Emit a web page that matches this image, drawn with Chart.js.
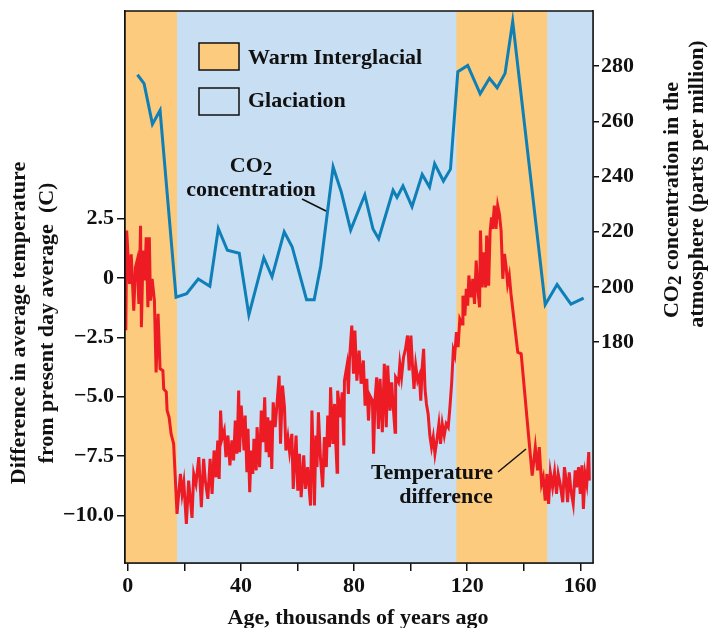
<!DOCTYPE html>
<html>
<head>
<meta charset="utf-8">
<script src="https://cdn.jsdelivr.net/npm/chart.js@4"></script>
<style>
  body { margin: 0; background: #fff; }
  #wrap { width: 710px; height: 628px; }
</style>
</head>
<body>
<div id="wrap"><canvas id="myChart" width="710" height="628"></canvas></div>
<script>
// ---- data ----
// CO2 record (age in thousands of years, ppm)
const co2Age = [3.4, 5.75, 8.7, 11.4, 17.05, 20.8, 24.9, 29, 32, 35.2, 39.4, 42.8, 48.1, 51, 55.3, 58.1,
  63.2, 65.9, 68.2, 72.6, 75.5, 78.8, 83.8, 86.7, 88.7, 93.8, 95.2, 97.3, 100.5, 104.1, 106.7, 108.5,
  111.6, 114.1, 116.7, 120.2, 124.6, 127.9, 130.6, 133.4, 136.1, 147.6, 151.8, 156.7, 161.2];
const co2Ppm = [276.9, 273.7, 259, 264, 196.3, 197.6, 202.9, 200.3, 221.2, 213.3, 212.2, 189.9, 210.6, 203.7, 220, 214.6,
  195.4, 195.4, 207.6, 243.5, 234.4, 220.6, 233.4, 221, 217.5, 235, 232.5, 236.6, 229.1, 240.8, 236.2, 244.7,
  238.4, 242.7, 278, 280.3, 270, 275.6, 272.2, 277.4, 296.2, 193.6, 200.9, 193.8, 196];

// temperature difference record (age, degrees C)
const tempAge = [-0.7, -0.4, 0.6, 1.2, 2.1, 2.7, 3.3, 3.9, 4.5, 4.8, 5.4, 6.0, 6.5, 7.1, 7.6, 8.0, 8.6, 9.4,
  10.0, 10.7, 11.4, 12.4, 12.7, 13.6, 13.9, 14.6, 15.3, 16.2, 17.4, 18.6, 19.2, 19.8, 20.7, 21.5, 22.7, 23.3,
  24.1, 25.1, 26.0, 26.8, 27.4, 28.3, 29.1, 29.8, 30.5, 31.2, 31.8, 32.3, 32.8, 33.3, 34.1, 34.7, 35.4, 36.1,
  36.8, 37.4, 38.0, 38.6, 39.2, 39.5, 40.1, 41.1, 41.5, 42.1, 42.5, 43.1, 43.6, 44.2, 44.6, 45.4, 45.7, 46.6,
  47.2, 47.8, 48.4, 48.9, 49.5, 50.0, 50.5, 50.9, 51.4, 52.1, 52.8, 53.5, 54.0, 54.7, 55.4, 55.9, 56.6, 57.2,
  58.0, 58.5, 59.5, 60.1, 60.7, 61.3, 62.2, 62.8, 63.6, 64.1, 64.6, 65.1, 65.7, 66.0, 66.5, 66.9, 67.4, 68.1,
  68.9, 69.5, 70.2, 70.7, 71.3, 71.7, 72.5, 73.1, 73.5, 74.0, 74.2, 75.2, 75.8, 76.4, 76.6, 77.5, 78.0, 78.4,
  79.2, 79.8, 80.3, 81.0, 81.8, 82.5, 83.3, 83.9, 84.5, 85.1, 85.6, 86.5, 86.9, 87.4, 88.0, 88.6, 89.2, 90.0,
  90.7, 91.4, 91.9, 92.7, 93.3, 93.9, 94.5, 94.7, 95.7, 96.2, 96.8, 97.5, 98.2, 98.9, 99.5, 100.1, 100.7, 101.2,
  101.8, 102.5, 103.1, 103.6, 104.1, 104.6, 105.1, 105.6, 106.2, 106.8, 107.4, 108.0, 108.6, 109.2, 110.0, 110.6,
  111.2, 111.9, 112.6, 113.3, 113.9, 114.5, 115.1, 115.6, 116.2, 116.8, 117.4, 118.2, 118.5, 119.2, 119.7, 120.2,
  120.6, 121.4, 122.0, 122.6, 123.2, 123.8, 124.4, 124.7, 125.3, 126.0, 126.5, 126.9, 127.6, 128.1, 128.6, 129.0,
  129.6, 130.2, 130.8, 131.4, 132.0, 132.6, 133.2, 133.8, 134.3, 134.9, 135.5, 137.9, 139.1, 143.0, 144.1, 144.9,
  145.5, 146.3, 146.9, 147.6, 148.2, 148.8, 149.4, 150.2, 150.9, 151.6, 152.2, 152.9, 153.8, 154.4, 155.0, 155.5,
  156.1, 156.7, 157.5, 158.2, 158.7, 159.4, 160.0, 160.6, 161.1, 161.7, 162.3, 163.0, 163.2];
const tempDiff = [-2.2, 2.0, -0.25, 1.0, -1.37, 0.45, 0.74, -1.09, 2.2, -2.07, 1.16, -0.1, 1.72, -1.23, 1.72, -0.95, -0.03, -0.95,
  -3.97, -1.5, -3.82, -3.9, -4.67, -4.8, -5.58, -5.86, -6.56, -6.98, -9.93, -8.25, -9.09, -8.6, -10.35, -8.53, -10.1, -8.25,
  -8.67, -7.54, -9.65, -7.61, -8.53, -9.3, -7.61, -9.09, -7.26, -8.39, -6.84, -8.46, -5.58, -6.77, -6.42, -7.54, -6.63, -7.89,
  -6.84, -7.68, -6.0, -7.4, -4.74, -7.33, -5.37, -7.26, -5.79, -8.18, -6.35, -9.02, -7.26, -8.25, -6.77, -8.1, -6.28, -7.96,
  -5.58, -6.91, -5.02, -7.33, -5.86, -7.54, -6.0, -8.04, -5.23, -6.28, -5.23, -4.11, -6.98, -4.53, -5.44, -7.26, -6.7, -7.33,
  -6.56, -8.88, -6.63, -8.95, -7.4, -9.23, -7.47, -8.88, -7.96, -8.81, -9.58, -5.58, -8.18, -9.58, -6.63, -7.96, -5.65, -7.54,
  -8.81, -6.7, -7.96, -5.79, -7.12, -4.6, -6.98, -5.3, -6.84, -8.18, -4.74, -5.86, -4.81, -7.05, -4.32, -3.68, -4.88, -3.4,
  -2.0, -4.03, -2.21, -4.32, -3.05, -4.45, -3.47, -5.37, -4.24, -6.0, -4.95, -5.16, -7.4, -5.16, -4.18, -6.35, -4.24, -6.49,
  -3.61, -6.28, -3.68, -5.58, -4.39, -5.51, -6.49, -4.18, -4.39, -3.61, -4.18, -3.33, -2.98, -2.42, -3.89, -2.42, -3.75, -4.67,
  -3.68, -4.32, -4.11, -5.16, -3.75, -2.98, -4.67, -5.3, -5.72, -6.63, -7.12, -6.7, -7.4, -6.91, -6.14, -6.98,
  -6.14, -6.63, -6.14, -6.28, -5.44, -4.45, -3.05, -3.26, -2.28, -2.91, -1.72, -1.93, -0.74, -1.58, -0.45, -1.16,
  0.11, -0.81, -0.03, -1.09, 0.74, -0.53, -1.23, 2.0, -0.39, 1.09, -0.39, 1.79, -0.32, 1.93, 2.56, 2.07,
  3.05, 2.07, 3.05, 2.7, 2.0, -0.03, 1.02, 0.45, -0.25, 0.11, -0.67, -3.12, -3.19, -8.32, -7.12, -8.1,
  -7.12, -8.67, -8.39, -9.37, -8.25, -9.51, -8.18, -8.81, -8.18, -9.09, -8.25, -8.67, -9.44, -7.96, -8.53, -9.44,
  -8.18, -8.95, -9.51, -8.1, -8.81, -7.96, -9.09, -7.89, -9.72, -8.25, -8.67, -7.33, -8.53];

// warm interglacial periods (start, end age); everything else is glaciation
const warmStart = [-1, 116.2];
const warmEnd = [17.4, 148.3];

// axis ticks
const ageTicks = [0, 20, 40, 60, 80, 100, 120, 140, 160];
const tempTicks = [-10, -7.5, -5, -2.5, 0, 2.5];
const tempTickLabels = ['\u221210.0', '\u22127.5', '\u22125.0', '\u22122.5', '0', '2.5'];
const co2Ticks = [180, 200, 220, 240, 260, 280];

const WARM = '#FDCB7D';
const COLD = '#C8DEF3';
const RED = '#ED1C24';
const BLUE = '#0E7FB7';
const FONT = "'Liberation Serif', 'DejaVu Serif', serif";

function toPoints(xs, ys) {
  return xs.map((x, i) => ({ x: x, y: ys[i] }));
}

const bands = {
  id: 'bands',
  beforeDatasetsDraw(chart) {
    const { ctx, chartArea: a, scales } = chart;
    ctx.save();
    ctx.fillStyle = COLD;
    ctx.fillRect(a.left, a.top, a.right - a.left, a.bottom - a.top);
    ctx.fillStyle = WARM;
    warmStart.forEach((s, i) => {
      const x0 = Math.max(a.left, scales.x.getPixelForValue(s));
      const x1 = scales.x.getPixelForValue(warmEnd[i]);
      ctx.fillRect(x0, a.top, x1 - x0, a.bottom - a.top);
    });
    ctx.restore();
  },
  afterDraw(chart) {
    const { ctx, chartArea: a } = chart;
    ctx.save();
    ctx.strokeStyle = '#111';
    ctx.lineWidth = 1.5;
    ctx.strokeRect(a.left, a.top, a.right - a.left, a.bottom - a.top);

    // legend boxes
    ctx.fillStyle = WARM;
    ctx.fillRect(199, 43, 40, 27);
    ctx.strokeRect(199, 43, 40, 27);
    ctx.fillStyle = COLD;
    ctx.fillRect(199, 88, 40, 27);
    ctx.strokeRect(199, 88, 40, 27);

    ctx.fillStyle = '#111';
    ctx.font = 'bold 22px ' + FONT;
    ctx.textBaseline = 'middle';
    ctx.textAlign = 'left';
    ctx.fillText('Warm Interglacial', 248, 58);
    ctx.fillText('Glaciation', 248, 101);

    // annotations
    ctx.textAlign = 'center';
    drawCO2(ctx, 'CO', '2', '', 251, 166);
    ctx.fillText('concentration', 251, 190);
    ctx.fillText('Temperature', 432, 473);
    ctx.fillText('difference', 446, 497);

    ctx.lineWidth = 1.5;
    ctx.beginPath();
    ctx.moveTo(302, 199);
    ctx.lineTo(326, 211);
    ctx.moveTo(498, 472);
    ctx.lineTo(526, 449);
    ctx.stroke();

    // axis titles
    ctx.save();
    ctx.translate(19, 323);
    ctx.rotate(-Math.PI / 2);
    ctx.fillText('Difference in average temperature', 0, 0);
    ctx.fillText('from present day average  (C)', 0, 28);
    ctx.restore();

    ctx.save();
    ctx.translate(672, 200);
    ctx.rotate(-Math.PI / 2);
    drawCO2(ctx, 'CO', '2', ' concentration in the', 0, 0);
    ctx.restore();
    ctx.save();
    ctx.translate(697, 184);
    ctx.rotate(-Math.PI / 2);
    ctx.fillText('atmosphere (parts per million)', 0, 0);
    ctx.restore();

    ctx.fillText('Age, thousands of years ago', 358, 618);
    ctx.restore();
  }
};

// "CO" + lowered "2" + rest, centred on (x, y)
function drawCO2(ctx, a, sub, rest, x, y) {
  ctx.save();
  ctx.textAlign = 'left';
  ctx.textBaseline = 'middle';
  ctx.font = 'bold 22px ' + FONT;
  const w1 = ctx.measureText(a).width;
  const w3 = ctx.measureText(rest).width;
  ctx.font = 'bold 19px ' + FONT;
  const w2 = ctx.measureText(sub).width;
  const left = x - (w1 + w2 + w3) / 2;
  ctx.font = 'bold 22px ' + FONT;
  ctx.fillText(a, left, y);
  ctx.font = 'bold 19px ' + FONT;
  ctx.fillText(sub, left + w1, y + 4);
  ctx.font = 'bold 22px ' + FONT;
  ctx.fillText(rest, left + w1 + w2, y);
  ctx.restore();
}

const tickFont = { family: FONT, size: 22, weight: 'bold' };

const ctx = document.getElementById('myChart').getContext('2d');
const myChart = new Chart(ctx, {
  type: 'line',
  data: {
    datasets: [{
      label: 'Temperature difference',
      data: toPoints(tempAge, tempDiff),
      yAxisID: 'y',
      borderColor: RED,
      borderWidth: 3,
      pointRadius: 0,
      tension: 0
    }, {
      label: 'CO2 concentration',
      data: toPoints(co2Age, co2Ppm),
      yAxisID: 'y2',
      borderColor: BLUE,
      borderWidth: 3,
      pointRadius: 0,
      tension: 0
    }]
  },
  options: {
    responsive: false,
    animation: false,
    devicePixelRatio: 1,
    layout: { padding: { top: 11, left: 0, right: 0, bottom: 0 } },
    plugins: { legend: { display: false }, tooltip: { enabled: false } },
    scales: {
      x: {
        type: 'linear',
        min: -1,
        max: 164.5,
        afterBuildTicks: s => { s.ticks = ageTicks.map(v => ({ value: v })); },
        afterFit: s => { s.height = 65; s.paddingLeft = 0; s.paddingRight = 0; },
        ticks: {
          font: tickFont,
          color: '#111',
          padding: 2,
          maxRotation: 0,
          autoSkip: false,
          callback: v => (v % 40 === 0 ? String(v) : '')
        },
        grid: { drawOnChartArea: false, tickLength: 8, color: '#111', lineWidth: 1.5 },
        border: { color: '#111', width: 1.5 }
      },
      y: {
        type: 'linear',
        position: 'left',
        min: -12,
        max: 11.25,
        afterBuildTicks: s => { s.ticks = tempTicks.map(v => ({ value: v })); },
        afterFit: s => { s.width = 125; s.paddingTop = 0; s.paddingBottom = 0; },
        ticks: {
          font: tickFont,
          color: '#111',
          padding: 3,
          autoSkip: false,
          callback: v => tempTickLabels[tempTicks.indexOf(v)]
        },
        grid: { drawOnChartArea: false, tickLength: 8, color: '#111', lineWidth: 1.5 },
        border: { color: '#111', width: 1.5 }
      },
      y2: {
        type: 'linear',
        position: 'right',
        min: 100,
        max: 300,
        afterBuildTicks: s => { s.ticks = co2Ticks.map(v => ({ value: v })); },
        afterFit: s => { s.width = 117; s.paddingTop = 0; s.paddingBottom = 0; },
        ticks: {
          font: tickFont,
          color: '#111',
          padding: 2,
          autoSkip: false
        },
        grid: { drawOnChartArea: false, tickLength: 6, color: '#111', lineWidth: 1.5 },
        border: { color: '#111', width: 1.5 }
      }
    }
  },
  plugins: [bands]
});
</script>
</body>
</html>
